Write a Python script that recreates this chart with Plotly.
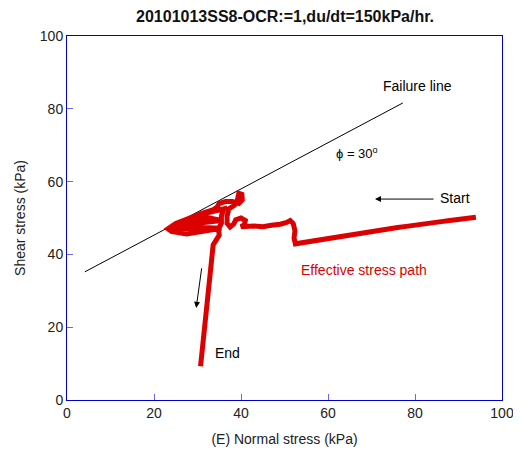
import plotly.graph_objects as go

# Failure line (phi = 30 deg)
fail_x = [4.1, 77.2]
fail_y = [35.2, 81.6]

# Effective stress path (normal stress, shear stress)
path_x = [94.0, 92.0, 90.0, 88.0, 86.0, 84.0, 82.0, 80.0, 78.0, 76.0, 74.0, 72.0, 70.0,
          68.0, 66.0, 64.0, 62.0, 60.0, 58.0, 56.0, 54.0, 52.5, 52.2, 52.4, 52.0, 51.3,
          50.5, 49.0, 47.0, 45.0, 43.0, 41.5, 40.0,
          40.8, 41.0, 40.0, 38.8, 38.3, 37.5, 36.8, 36.8, 37.2, 38.5, 39.2, 39.5, 40.2,
          40.3, 39.5, 38.0, 36.5, 35.0, 34.5, 33.5, 31.0, 29.0, 27.0, 25.0, 23.2,
          24.0, 27.5, 31.0, 34.0, 35.5, 31.0, 26.0, 24.0, 28.0, 32.0, 35.5, 32.0,
          28.5, 26.0, 30.0, 33.5, 36.0, 35.5, 35.5, 34.8, 35.0, 33.6, 31.2, 30.9, 30.7]
path_y = [50.2, 49.8, 49.6, 49.3, 49.0, 48.6, 48.4, 48.0, 47.7, 47.4, 47.0, 46.6, 46.2,
          45.8, 45.4, 45.0, 44.7, 44.3, 43.9, 43.5, 43.1, 42.9, 44.5, 46.5, 48.5, 49.3,
          48.8, 48.3, 48.0, 47.6, 47.8, 47.6, 47.6,
          48.2, 49.3, 50.0, 49.5, 48.3, 47.5, 48.5, 50.5, 52.5, 53.5, 55.0, 56.8, 56.5,
          55.0, 54.0, 54.5, 54.5, 54.0, 53.0, 52.2, 51.3, 50.4, 49.5, 48.5, 47.0,
          46.3, 45.6, 46.2, 46.6, 47.2, 47.4, 47.0, 46.8, 48.3, 48.8, 49.3, 50.2,
          49.6, 48.6, 50.8, 51.8, 52.5, 50.5, 48.5, 47.0, 45.3, 42.6, 15.7, 13.8, 9.3]

fig = go.Figure()
fig.add_trace(go.Scatter(x=fail_x, y=fail_y, mode="lines",
                         line=dict(color="black", width=1), showlegend=False,
                         hoverinfo="skip"))
fig.add_trace(go.Scatter(x=path_x, y=path_y, mode="lines",
                         line=dict(color="#dd0000", width=5), showlegend=False))

font = "Arial, Liberation Sans, sans-serif"
ann = [
    dict(x=80.5, y=86.3, text="Failure line", showarrow=False, font=dict(size=14, color="black")),
    dict(x=66.7, y=67.9, text="ϕ = 30<sup>o</sup>", showarrow=False, font=dict(size=13, color="black")),
    dict(x=89.3, y=55.5, text="Start", showarrow=False, font=dict(size=14, color="black")),
    dict(x=68.3, y=35.7, text="Effective stress path", showarrow=False, font=dict(size=14, color="#dd0000")),
    dict(x=36.8, y=13.0, text="End", showarrow=False, font=dict(size=14, color="black")),
    dict(x=70.8, y=55.2, ax=84.6, ay=55.2, xref="x", yref="y", axref="x", ayref="y",
         text="", showarrow=True, arrowhead=2, arrowsize=1.2, arrowwidth=1, arrowcolor="black"),
    dict(x=29.7, y=25.3, ax=31.0, ay=36.6, xref="x", yref="y", axref="x", ayref="y",
         text="", showarrow=True, arrowhead=2, arrowsize=1.2, arrowwidth=1, arrowcolor="black"),
]
for a in ann:
    a.setdefault("xref", "x")
    a.setdefault("yref", "y")

axis_common = dict(showgrid=False, zeroline=False, showline=True, linecolor="#0000cc",
                   linewidth=1, mirror=True, ticks="inside", ticklen=6, tickcolor="#6666ee",
                   tickfont=dict(size=14, color="#222222", family=font))

fig.update_layout(
    width=521, height=455,
    margin=dict(l=59, r=27, t=28, b=63),
    paper_bgcolor="white", plot_bgcolor="white",
    font=dict(family=font, color="#222222"),
    title=dict(text="<b>20101013SS8-OCR:=1,du/dt=150kPa/hr.</b>", x=277 / 521, xanchor="center",
               y=1 - 8 / 455, yanchor="middle", font=dict(size=16, color="#111111", family=font)),
    xaxis=dict(range=[0, 100], tickvals=[0, 20, 40, 60, 80, 100],
               title=dict(text="(E) Normal stress (kPa)", font=dict(size=14, family=font), standoff=14),
               **axis_common),
    yaxis=dict(range=[0, 100], tickvals=[0, 20, 40, 60, 80, 100],
               title=dict(text="Shear stress (kPa)", font=dict(size=14, family=font), standoff=10),
               **axis_common),
    annotations=ann,
)

fig.write_html("out.html")
